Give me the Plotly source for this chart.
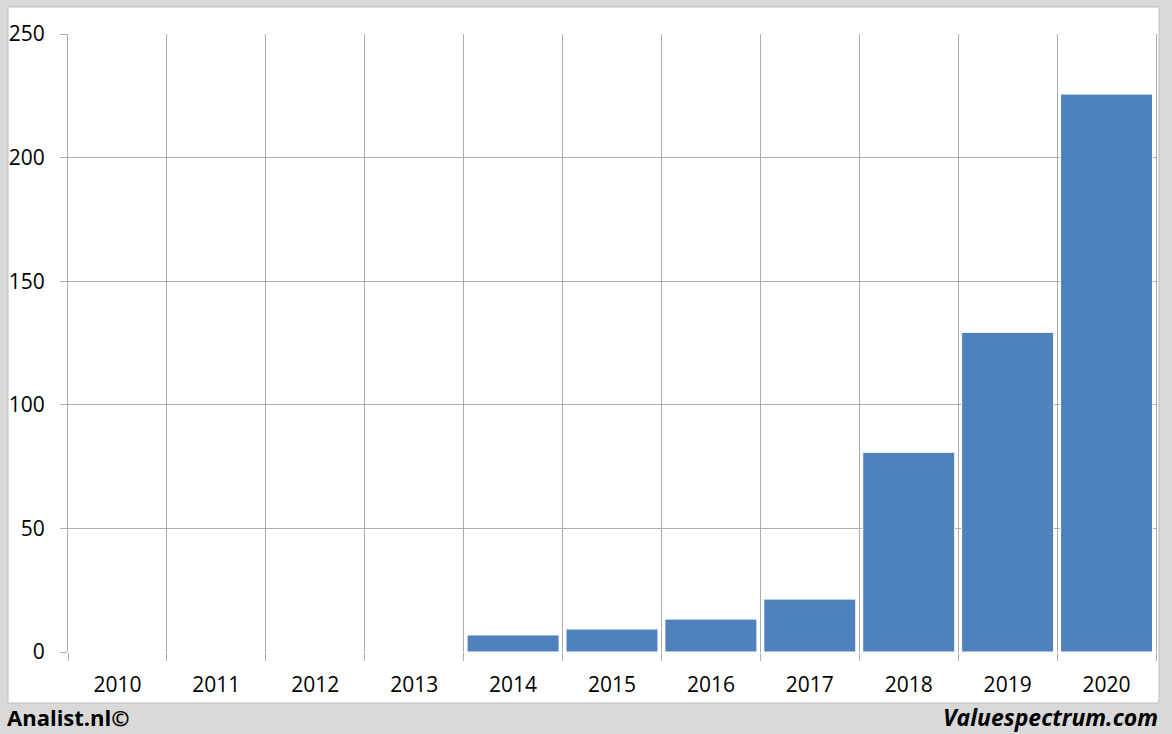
import plotly.graph_objects as go

years = [2010, 2011, 2012, 2013, 2014, 2015, 2016, 2017, 2018, 2019, 2020]
values = [None, None, None, None, 6.9, 9.3, 13.3, 21.4, 80.8, 129.3, 225.7]
y_ticks = [0, 50, 100, 150, 200, 250]

W, H = 1172, 734
L, R, T, B = 68, 16, 34, 82
pw, ph = W - L - R, H - T - B

def px_x(p):
    return (p - L) / pw

def px_y(p):
    return (H - B - p) / ph

grid = "#ababab"

fig = go.Figure()
fig.add_trace(go.Bar(
    x=years, y=values,
    marker=dict(color="#4f81bd", line=dict(color="#ffffff", width=1)),
    width=0.93,
))

fig.update_layout(
    width=W, height=H,
    margin=dict(l=L, r=R, t=T, b=B, autoexpand=False),
    paper_bgcolor="#d9d9d9",
    plot_bgcolor="#ffffff",
    showlegend=False,
    font=dict(family="Open Sans, sans-serif", size=21, color="#000000"),
    xaxis=dict(
        range=[2009.5, 2020.5],
        tickvals=years,
        ticktext=[str(y) for y in years],
        showgrid=False,
        ticks="",
        zeroline=False,
        automargin=False,
        ticklabelstandoff=18,
        minor=dict(
            tickvals=[y - 0.5 for y in years] + [2020.5],
            showgrid=True, gridcolor=grid, gridwidth=1,
            ticks="outside", ticklen=8, tickcolor=grid,
        ),
        fixedrange=True,
    ),
    yaxis=dict(
        range=[0, 250],
        tickvals=y_ticks,
        showgrid=True, gridcolor=grid, gridwidth=1,
        ticks="outside", ticklen=7, tickcolor=grid,
        showline=True, linecolor=grid, linewidth=1, mirror=True,
        zeroline=False,
        automargin=False,
        ticklabelstandoff=11,
        fixedrange=True,
    ),
    shapes=[
        dict(type="rect", xref="paper", yref="paper", layer="below",
             x0=px_x(8), x1=px_x(1159), y0=px_y(703), y1=px_y(7),
             fillcolor="#ffffff", line=dict(color="#bfbfbf", width=1)),
    ],
    annotations=[
        dict(text="<b>Analist.nl©</b>", xref="paper", yref="paper",
             x=px_x(5), y=px_y(717), xanchor="left", yanchor="middle",
             showarrow=False,
             font=dict(family="Open Sans, sans-serif", size=22, color="#000000")),
        dict(text="<b><i>Valuespectrum.com</i></b>", xref="paper", yref="paper",
             x=px_x(1160), y=px_y(717), xanchor="right", yanchor="middle",
             showarrow=False,
             font=dict(family="Open Sans, sans-serif", size=23, color="#000000")),
    ],
)

fig.write_html(
    "out.html",
    config={"displayModeBar": False},
    post_script="document.body.style.margin='0';document.body.style.overflow='hidden';",
)
